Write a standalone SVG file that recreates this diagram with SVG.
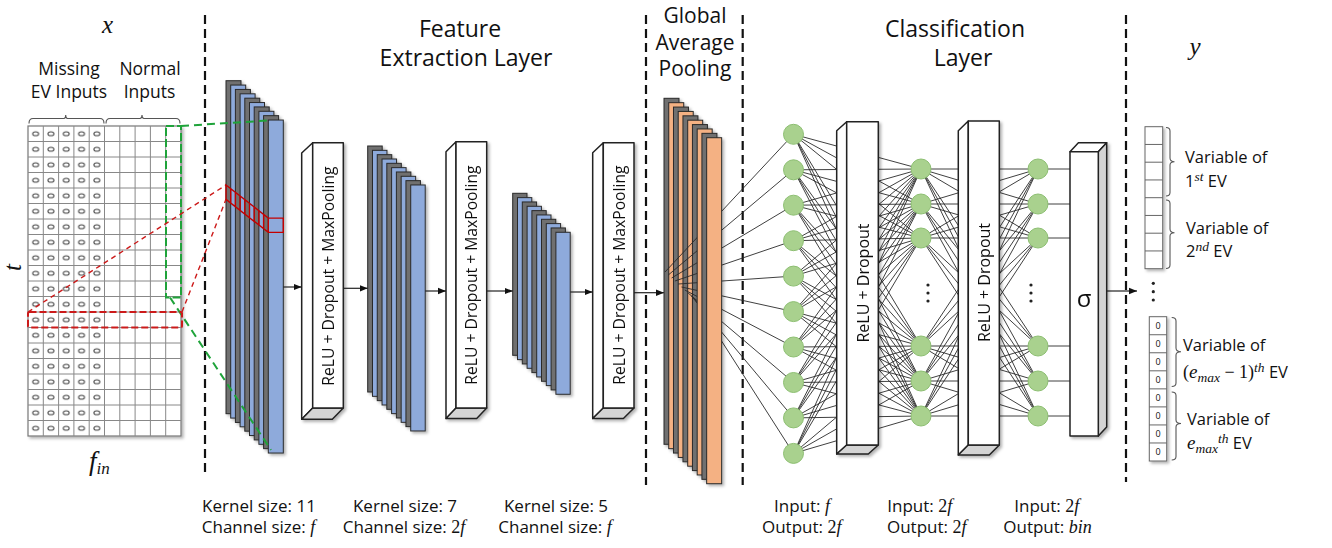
<svg xmlns="http://www.w3.org/2000/svg" width="1332" height="548" viewBox="0 0 1332 548">
<defs>
<style>
.t{font-family:"Open Sans","Noto Sans",sans-serif;fill:#111}
.m{font-family:"Liberation Serif","DejaVu Serif",serif;font-style:italic;fill:#111}
.mr{font-family:"Liberation Serif","DejaVu Serif",serif;font-style:normal}
.g{fill:#6f6f6f;stroke:#2a2a2a;stroke-width:1}
.b{fill:#8eaadb;stroke:#2a2a2a;stroke-width:1}
.o{fill:#f4b183;stroke:#2a2a2a;stroke-width:1}
.bf{fill:#fff;stroke:#222;stroke-width:1.5;stroke-linejoin:round}
.bs{fill:#d4d4d4;stroke:#222;stroke-width:1.5;stroke-linejoin:round}
.div{stroke:#111;stroke-width:2.2;stroke-dasharray:9 5;fill:none}
.ar{stroke:#222;stroke-width:1.2;fill:none;marker-end:url(#ah)}
.fc{stroke:#2a2a2a;stroke-width:0.9;fill:none}
.nd{fill:#a9d18e;stroke:#8dbf72;stroke-width:1}
.cell{fill:#fff;stroke:#666;stroke-width:1}
.br{fill:none;stroke:#555;stroke-width:1.1}
</style>
<filter id="sh" x="-20%" y="-5%" width="150%" height="115%">
<feDropShadow dx="2" dy="2" stdDeviation="1.5" flood-color="#000" flood-opacity="0.3"/>
</filter>
<marker id="ah" viewBox="0 0 10 10" refX="10" refY="5" markerWidth="8" markerHeight="8" markerUnits="userSpaceOnUse" orient="auto">
<path d="M0,1L10,5L0,9z" fill="#111"/>
</marker>
<pattern id="zp" patternUnits="userSpaceOnUse" x="28" y="126" width="15.3" height="15.5">
<ellipse cx="7.65" cy="7.75" rx="3" ry="2" fill="none" stroke="#444" stroke-width="1"/>
</pattern>
</defs>
<rect width="1332" height="548" fill="#fff"/>

<!-- dividers -->
<g id="dividers">
<path class="div" d="M205 15V475M646 15V485M742.7 15V485M1126 15V482"/>
</g>

<!-- headers -->
<g id="headers">
<text class="m" x="107.5" y="33" font-size="25" text-anchor="middle">x</text>
<text class="t" x="460" y="37" font-size="23" text-anchor="middle">Feature</text>
<text class="t" x="466" y="66" font-size="23" text-anchor="middle">Extraction Layer</text>
<text class="t" x="695" y="23" font-size="21" text-anchor="middle">Global</text>
<text class="t" x="695" y="50" font-size="21" text-anchor="middle">Average</text>
<text class="t" x="695" y="76" font-size="21" text-anchor="middle">Pooling</text>
<text class="t" x="955" y="37" font-size="23" text-anchor="middle">Classification</text>
<text class="t" x="963" y="66" font-size="23" text-anchor="middle">Layer</text>
<text class="m" x="1195" y="55" font-size="25" text-anchor="middle">y</text>
</g>

<!-- input x -->
<g id="input">
<text class="t" x="69" y="75" font-size="17.5" text-anchor="middle">Missing</text>
<text class="t" x="69" y="97.5" font-size="17.5" text-anchor="middle">EV Inputs</text>
<text class="t" x="150" y="75" font-size="17.5" text-anchor="middle">Normal</text>
<text class="t" x="149.5" y="97.5" font-size="17.5" text-anchor="middle">Inputs</text>
<path class="br" d="M29 123.5Q29 118.5 33 118.5H64Q65.7 118.5 65.7 115Q65.7 118.5 67.5 118.5H100Q104 118.5 104 123.5"/>
<path class="br" d="M106 123.5Q106 118.5 110 118.5H140Q142 118.5 142 115Q142 118.5 144 118.5H176Q180 118.5 180 123.5"/>
<rect x="28" y="126" width="153" height="310" fill="#fff" stroke="#777" stroke-width="1.2" filter="url(#sh)"/>
<rect x="28" y="126" width="76.5" height="310" fill="url(#zp)"/>
<path d="M43.3 126V436M58.6 126V436M73.9 126V436M89.2 126V436M104.5 126V436M119.8 126V436M135.1 126V436M150.4 126V436M165.7 126V436M28 141.5H181M28 157H181M28 172.5H181M28 188H181M28 203.5H181M28 219H181M28 234.5H181M28 250H181M28 265.5H181M28 281H181M28 296.5H181M28 312H181M28 327.5H181M28 343H181M28 358.5H181M28 374H181M28 389.5H181M28 405H181M28 420.5H181" stroke="#888" stroke-width="1" fill="none"/>
<g transform="rotate(-90 21 267.5)">
<text class="m" x="21" y="267.5" font-size="25" text-anchor="middle">t</text>
</g>
<text class="m" x="89" y="470" font-size="27">f<tspan font-size="17" dy="4">in</tspan></text>
</g>

<!-- conv stack 1 -->
<g id="conv1" filter="url(#sh)">
<rect class="g" x="226" y="80.7" width="15" height="333"/>
<rect class="b" x="230.7" y="85.07" width="15" height="333"/>
<rect class="g" x="235.4" y="89.44" width="15" height="333"/>
<rect class="b" x="240.1" y="93.81" width="15" height="333"/>
<rect class="g" x="244.8" y="98.18" width="15" height="333"/>
<rect class="b" x="249.5" y="102.55" width="15" height="333"/>
<rect class="g" x="254.2" y="106.92" width="15" height="333"/>
<rect class="b" x="258.9" y="111.29" width="15" height="333"/>
<rect class="g" x="263.6" y="115.66" width="15" height="333"/>
<rect class="b" x="268.3" y="120.03" width="15" height="333"/>
</g>

<!-- receptive field markers -->
<g id="kernel-markers">
<rect x="166" y="126" width="15" height="171.5" fill="none" stroke="#1fa33a" stroke-width="2" stroke-dasharray="8 3"/>
<path d="M181 126L268.3 120.5M170 297.5L271 450" stroke="#1fa33a" stroke-width="2" stroke-dasharray="8 5" fill="none"/>
<rect x="28" y="312" width="154" height="15.5" rx="1.5" fill="none" stroke="#cc1a1a" stroke-width="2" stroke-dasharray="7 3"/>
<path d="M28 312L226 185M182 312L226 199.3" stroke="#cc1a1a" stroke-width="1.4" stroke-dasharray="5 4" fill="none"/>
<path d="M226 185L268.3 218.1H283.3V232.4H268.3L226 199.3ZM230.7 188.7V203M235.4 192.4V206.7M240.1 196V210.3M244.8 199.7V214M249.5 203.4V217.7M254.2 207.1V221.4M258.9 210.7V225M263.6 214.4V228.7M268.3 218.1V232.4" fill="none" stroke="#c40000" stroke-width="1.4"/>
</g>

<!-- RDM box 1 -->
<g id="rdm1" filter="url(#sh)">
<polygon class="bf" points="301.7,153 312.7,142.7 312.7,408 301.7,419.3"/>
<polygon class="bs" points="301.7,419.3 312.7,408 343.3,408 332.3,419.3"/>
<rect class="bf" x="312.7" y="142.7" width="30.6" height="265.3"/>
<text class="t" font-size="15.7" text-anchor="middle" dominant-baseline="central" transform="translate(328,276) rotate(-90)">ReLU + Dropout + MaxPooling</text>
</g>

<!-- conv stack 2 -->
<g id="conv2" filter="url(#sh)">
<rect class="g" x="367.7" y="146" width="14.5" height="246"/>
<rect class="b" x="372.48" y="150.33" width="14.5" height="246"/>
<rect class="g" x="377.26" y="154.66" width="14.5" height="246"/>
<rect class="b" x="382.04" y="158.99" width="14.5" height="246"/>
<rect class="g" x="386.82" y="163.32" width="14.5" height="246"/>
<rect class="b" x="391.6" y="167.65" width="14.5" height="246"/>
<rect class="g" x="396.38" y="171.98" width="14.5" height="246"/>
<rect class="b" x="401.16" y="176.31" width="14.5" height="246"/>
<rect class="g" x="405.94" y="180.64" width="14.5" height="246"/>
<rect class="b" x="410.72" y="184.97" width="14.5" height="246"/>
</g>

<!-- RDM box 2 -->
<g id="rdm2" filter="url(#sh)">
<polygon class="bf" points="446,151.7 456,141.7 456,408 446,418.5"/>
<polygon class="bs" points="446,418.5 456,408 486.7,408 476.7,418.5"/>
<rect class="bf" x="456" y="141.7" width="30.7" height="266.3"/>
<text class="t" font-size="15.7" text-anchor="middle" dominant-baseline="central" transform="translate(471.3,275) rotate(-90)">ReLU + Dropout + MaxPooling</text>
</g>

<!-- conv stack 3 -->
<g id="conv3" filter="url(#sh)">
<rect class="g" x="512.7" y="193.3" width="14.3" height="162"/>
<rect class="b" x="517.5" y="197.63" width="14.3" height="162"/>
<rect class="g" x="522.3" y="201.96" width="14.3" height="162"/>
<rect class="b" x="527.1" y="206.29" width="14.3" height="162"/>
<rect class="g" x="531.9" y="210.62" width="14.3" height="162"/>
<rect class="b" x="536.7" y="214.95" width="14.3" height="162"/>
<rect class="g" x="541.5" y="219.28" width="14.3" height="162"/>
<rect class="b" x="546.3" y="223.61" width="14.3" height="162"/>
<rect class="g" x="551.1" y="227.94" width="14.3" height="162"/>
<rect class="b" x="555.9" y="232.27" width="14.3" height="162"/>
</g>

<!-- RDM box 3 -->
<g id="rdm3" filter="url(#sh)">
<polygon class="bf" points="592.7,152.7 603.3,142.7 603.3,408 592.7,418.5"/>
<polygon class="bs" points="592.7,418.5 603.3,408 634,408 623.4,418.5"/>
<rect class="bf" x="603.3" y="142.7" width="30.7" height="265.3"/>
<text class="t" font-size="15.7" text-anchor="middle" dominant-baseline="central" transform="translate(618.6,275) rotate(-90)">ReLU + Dropout + MaxPooling</text>
</g>

<!-- connectors -->
<g id="connectors">
<path class="ar" d="M283.3 287H301.7"/>
<path class="ar" d="M343.3 288.3H367.7"/>
<path class="ar" d="M425.2 291H446"/>
<path class="ar" d="M486.7 291H512.7"/>
<path class="ar" d="M570.2 292H592.7"/>
<path class="ar" d="M634 292.7H664"/>
<path class="ar" d="M1106.7 291H1137"/>
<path class="fc" d="M793.5 134.3L921 169M793.5 134.3L921 204M793.5 134.3L921 238M793.5 134.3L921 346M793.5 134.3L921 381M793.5 134.3L921 416M793.5 169.8L921 169M793.5 169.8L921 204M793.5 169.8L921 238M793.5 169.8L921 346M793.5 169.8L921 381M793.5 169.8L921 416M793.5 205.2L921 169M793.5 205.2L921 204M793.5 205.2L921 238M793.5 205.2L921 346M793.5 205.2L921 381M793.5 205.2L921 416M793.5 240.7L921 169M793.5 240.7L921 204M793.5 240.7L921 238M793.5 240.7L921 346M793.5 240.7L921 381M793.5 240.7L921 416M793.5 276.1L921 169M793.5 276.1L921 204M793.5 276.1L921 238M793.5 276.1L921 346M793.5 276.1L921 381M793.5 276.1L921 416M793.5 311.6L921 169M793.5 311.6L921 204M793.5 311.6L921 238M793.5 311.6L921 346M793.5 311.6L921 381M793.5 311.6L921 416M793.5 347L921 169M793.5 347L921 204M793.5 347L921 238M793.5 347L921 346M793.5 347L921 381M793.5 347L921 416M793.5 382.5L921 169M793.5 382.5L921 204M793.5 382.5L921 238M793.5 382.5L921 346M793.5 382.5L921 381M793.5 382.5L921 416M793.5 417.9L921 169M793.5 417.9L921 204M793.5 417.9L921 238M793.5 417.9L921 346M793.5 417.9L921 381M793.5 417.9L921 416M793.5 453.4L921 169M793.5 453.4L921 204M793.5 453.4L921 238M793.5 453.4L921 346M793.5 453.4L921 381M793.5 453.4L921 416"/>
<path class="fc" d="M921 169L1038 169M921 169L1038 204M921 169L1038 238M921 169L1038 346M921 169L1038 381M921 169L1038 416M921 204L1038 169M921 204L1038 204M921 204L1038 238M921 204L1038 346M921 204L1038 381M921 204L1038 416M921 238L1038 169M921 238L1038 204M921 238L1038 238M921 238L1038 346M921 238L1038 381M921 238L1038 416M921 346L1038 169M921 346L1038 204M921 346L1038 238M921 346L1038 346M921 346L1038 381M921 346L1038 416M921 381L1038 169M921 381L1038 204M921 381L1038 238M921 381L1038 346M921 381L1038 381M921 381L1038 416M921 416L1038 169M921 416L1038 204M921 416L1038 238M921 416L1038 346M921 416L1038 381M921 416L1038 416"/>
<path class="fc" d="M1038 169H1070M1038 204H1070M1038 238H1070M1038 346H1070M1038 381H1070M1038 416H1070"/>
</g>

<!-- GAP stack -->
<g id="gap">
<g filter="url(#sh)">
<rect class="g" x="664" y="98.3" width="15" height="346"/>
<rect class="o" x="668.74" y="102.68" width="15" height="346"/>
<rect class="g" x="673.48" y="107.06" width="15" height="346"/>
<rect class="o" x="678.22" y="111.44" width="15" height="346"/>
<rect class="g" x="682.96" y="115.82" width="15" height="346"/>
<rect class="o" x="687.7" y="120.2" width="15" height="346"/>
<rect class="g" x="692.44" y="124.58" width="15" height="346"/>
</g>
<path class="fc" d="M665 272L793.5 134.3M668.3 275L793.5 169.8M671.6 278L793.5 205.2M674.9 281L793.5 240.7M678.2 284L793.5 276.1M681.5 287L793.5 311.6M684.8 290L793.5 347M688.1 293L793.5 382.5M691.4 296L793.5 417.9M694.7 299L793.5 453.4"/>
<g filter="url(#sh)">
<rect class="o" x="697.18" y="128.96" width="15" height="346"/>
<rect class="g" x="701.92" y="133.34" width="15" height="346"/>
<rect class="o" x="706.66" y="137.72" width="15" height="346"/>
</g>
</g>

<!-- classification boxes -->
<g id="rd1" filter="url(#sh)">
<polygon class="bf" points="836.7,130.7 846.7,121.7 846.7,445 836.7,454"/>
<polygon class="bs" points="836.7,454 846.7,445 878.3,445 868.3,454"/>
<rect class="bf" x="846.7" y="121.7" width="31.6" height="323.3"/>
<text class="t" font-size="16" text-anchor="middle" dominant-baseline="central" transform="translate(862.5,283) rotate(-90)">ReLU + Dropout</text>
</g>
<g id="rd2" filter="url(#sh)">
<polygon class="bf" points="958.3,130.7 968.3,121 968.3,445 958.3,455"/>
<polygon class="bs" points="958.3,455 968.3,445 999.3,445 989.3,455"/>
<rect class="bf" x="968.3" y="121" width="31" height="324"/>
<text class="t" font-size="16" text-anchor="middle" dominant-baseline="central" transform="translate(983.8,282.5) rotate(-90)">ReLU + Dropout</text>
</g>
<g id="sigma" filter="url(#sh)">
<polygon class="bf" points="1070,151.7 1078.4,142.7 1106.7,142.7 1098.3,151.7"/>
<polygon class="bs" points="1098.3,151.7 1106.7,142.7 1106.7,427 1098.3,436"/>
<rect class="bf" x="1070" y="151.7" width="28.3" height="284.3"/>
<text class="t" x="1084.2" y="297" font-size="24" text-anchor="middle" dominant-baseline="central">σ</text>
</g>

<!-- nodes -->
<g id="layer1">
<circle class="nd" cx="793.5" cy="134.3" r="10"/>
<circle class="nd" cx="793.5" cy="169.8" r="10"/>
<circle class="nd" cx="793.5" cy="205.2" r="10"/>
<circle class="nd" cx="793.5" cy="240.7" r="10"/>
<circle class="nd" cx="793.5" cy="276.1" r="10"/>
<circle class="nd" cx="793.5" cy="311.6" r="10"/>
<circle class="nd" cx="793.5" cy="347" r="10"/>
<circle class="nd" cx="793.5" cy="382.5" r="10"/>
<circle class="nd" cx="793.5" cy="417.9" r="10"/>
<circle class="nd" cx="793.5" cy="453.4" r="10"/>
</g>
<g id="layer2">
<circle class="nd" cx="921" cy="169" r="10"/>
<circle class="nd" cx="921" cy="204" r="10"/>
<circle class="nd" cx="921" cy="238" r="10"/>
<circle class="nd" cx="921" cy="346" r="10"/>
<circle class="nd" cx="921" cy="381" r="10"/>
<circle class="nd" cx="921" cy="416" r="10"/>
<circle cx="928" cy="285" r="1.6" fill="#222"/>
<circle cx="928" cy="293" r="1.6" fill="#222"/>
<circle cx="928" cy="301" r="1.6" fill="#222"/>
</g>
<g id="layer3">
<circle class="nd" cx="1038" cy="169" r="10"/>
<circle class="nd" cx="1038" cy="204" r="10"/>
<circle class="nd" cx="1038" cy="238" r="10"/>
<circle class="nd" cx="1038" cy="346" r="10"/>
<circle class="nd" cx="1038" cy="381" r="10"/>
<circle class="nd" cx="1038" cy="416" r="10"/>
<circle cx="1031" cy="285" r="1.6" fill="#222"/>
<circle cx="1031" cy="293" r="1.6" fill="#222"/>
<circle cx="1031" cy="301" r="1.6" fill="#222"/>
</g>

<!-- output y -->
<g id="output">
<rect class="cell" x="1145" y="126.7" width="17.7" height="142" filter="url(#sh)"/>
<path d="M1145 144.45H1162.7M1145 162.2H1162.7M1145 179.95H1162.7M1145 197.7H1162.7M1145 215.45H1162.7M1145 233.2H1162.7M1145 250.95H1162.7" stroke="#666" stroke-width="1"/>
<path class="br" d="M1166 127.5Q1170 127.5 1170 131V158Q1170 161.7 1174.5 161.7Q1170 161.7 1170 165V192.5Q1170 196 1166 196"/>
<path class="br" d="M1166 200Q1170 200 1170 203.5V229Q1170 232.7 1174.5 232.7Q1170 232.7 1170 236V265Q1170 268.5 1166 268.5"/>
<text class="t" x="1185" y="163" font-size="16.5">Variable of</text>
<text class="t" x="1185" y="187" font-size="16.5">1<tspan class="m" font-size="13.5" dy="-6">st</tspan><tspan dy="6"> EV</tspan></text>
<text class="t" x="1186" y="233.5" font-size="16.5">Variable of</text>
<text class="t" x="1186" y="257" font-size="16.5">2<tspan class="m" font-size="13.5" dy="-6">nd</tspan><tspan dy="6"> EV</tspan></text>
<circle cx="1153.3" cy="283.3" r="1.6" fill="#222"/>
<circle cx="1153.3" cy="291.7" r="1.6" fill="#222"/>
<circle cx="1153.3" cy="300" r="1.6" fill="#222"/>
<rect class="cell" x="1149.3" y="316.7" width="17.4" height="144.3" filter="url(#sh)"/>
<path d="M1149.3 334.74H1166.7M1149.3 352.78H1166.7M1149.3 370.82H1166.7M1149.3 388.86H1166.7M1149.3 406.9H1166.7M1149.3 424.94H1166.7M1149.3 442.98H1166.7" stroke="#666" stroke-width="1"/>
<g class="t" font-size="9" text-anchor="middle">
<text x="1158" y="328.9">0</text>
<text x="1158" y="346.9">0</text>
<text x="1158" y="365">0</text>
<text x="1158" y="383">0</text>
<text x="1158" y="401.1">0</text>
<text x="1158" y="419.1">0</text>
<text x="1158" y="437.2">0</text>
<text x="1158" y="455.2">0</text>
</g>
<path class="br" d="M1171.7 317.5Q1176 317.5 1176 321V348Q1176 351.7 1181 351.7Q1176 351.7 1176 355V383Q1176 386.5 1171.7 386.5"/>
<path class="br" d="M1171.7 392Q1176 392 1176 395.5V420Q1176 423.5 1181 423.5Q1176 423.5 1176 427V456.5Q1176 460 1171.7 460"/>
<text class="t" x="1183" y="351" font-size="16.5">Variable of</text>
<text class="t" x="1183" y="378" font-size="16.5"><tspan class="mr" font-size="18">(</tspan><tspan class="m" font-size="19">e</tspan><tspan class="m" font-size="13.5" dy="4">max</tspan><tspan class="mr" font-size="18" dy="-4"> − 1)</tspan><tspan class="m" font-size="13.5" dy="-6">th</tspan><tspan dy="6"> EV</tspan></text>
<text class="t" x="1187" y="425" font-size="16.5">Variable of</text>
<text class="t" x="1187" y="448.5" font-size="16.5"><tspan class="m" font-size="19">e</tspan><tspan class="m" font-size="13.5" dy="4">max</tspan><tspan class="m" font-size="13.5" dy="-10">th</tspan><tspan dy="6"> EV</tspan></text>
</g>

<!-- bottom labels -->
<g id="labels" font-size="17">
<text class="t" x="259" y="511.5" text-anchor="middle">Kernel size: 11</text>
<text class="t" x="258.5" y="533" text-anchor="middle">Channel size: <tspan class="m" font-size="18">f</tspan></text>
<text class="t" x="405" y="511.5" text-anchor="middle">Kernel size: 7</text>
<text class="t" x="404" y="533" text-anchor="middle">Channel size: <tspan class="mr" font-size="18">2</tspan><tspan class="m" font-size="18">f</tspan></text>
<text class="t" x="556" y="511.5" text-anchor="middle">Kernel size: 5</text>
<text class="t" x="555" y="533" text-anchor="middle">Channel size: <tspan class="m" font-size="18">f</tspan></text>
<text class="t" x="802" y="511.5" text-anchor="middle">Input: <tspan class="m" font-size="18">f</tspan></text>
<text class="t" x="801.7" y="533" text-anchor="middle">Output: <tspan class="mr" font-size="18">2</tspan><tspan class="m" font-size="18">f</tspan></text>
<text class="t" x="919.7" y="511.5" text-anchor="middle">Input: <tspan class="mr" font-size="18">2</tspan><tspan class="m" font-size="18">f</tspan></text>
<text class="t" x="926.7" y="533" text-anchor="middle">Output: <tspan class="mr" font-size="18">2</tspan><tspan class="m" font-size="18">f</tspan></text>
<text class="t" x="1046.7" y="511.5" text-anchor="middle">Input: <tspan class="mr" font-size="18">2</tspan><tspan class="m" font-size="18">f</tspan></text>
<text class="t" x="1047.5" y="533" text-anchor="middle">Output: <tspan class="m" font-size="18">bin</tspan></text>
</g>
</svg>
